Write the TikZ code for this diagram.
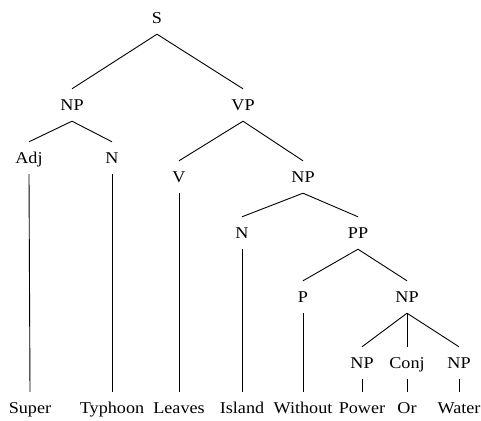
\documentclass[tikz,border=0pt]{standalone}
\usepackage{fontspec}
\setmainfont{Liberation Serif}[FakeStretch=1.1]
\usetikzlibrary{backgrounds}
\pgfdeclarelayer{edgelayer}
\pgfdeclarelayer{nodelayer}
\pgfsetlayers{edgelayer,nodelayer,main}
\tikzset{font=\fontsize{16.5}{18}\selectfont}
\tikzstyle{cat}=[inner xsep=2pt,inner ysep=10.5pt,text height=11pt,text depth=0pt]
\tikzstyle{branch}=[line width=0.9pt]
\begin{document}
\begin{tikzpicture}[x=1pt,y=1pt]
	\useasboundingbox (0,0) rectangle (481,420);
	\begin{pgfonlayer}{nodelayer}
		\node [style=cat] (0) at (157, 402) {S};
		\node [style=cat] (1) at (72, 315) {NP};
		\node [style=cat] (2) at (243, 315) {VP};
		\node [style=cat] (3) at (29, 262) {Adj};
		\node [style=cat] (4) at (112, 262) {N};
		\node [style=cat] (5) at (179, 243) {V};
		\node [style=cat] (6) at (303, 243) {NP};
		\node [style=cat] (7) at (242, 187) {N};
		\node [style=cat] (8) at (358, 187) {PP};
		\node [style=cat] (9) at (303, 123) {P};
		\node [style=cat] (10) at (407, 123) {NP};
		\node [style=cat] (11) at (362, 57) {NP};
		\node [style=cat] (12) at (407, 57) {Conj};
		\node [style=cat] (13) at (459, 57) {NP};
		\node [style=cat] (14) at (30, 12) {Super};
		\node [style=cat] (15) at (112, 12) {Typhoon};
		\node [style=cat] (16) at (179, 12) {Leaves};
		\node [style=cat] (17) at (242, 12) {Island};
		\node [style=cat] (18) at (303, 12) {Without};
		\node [style=cat] (19) at (362, 12) {Power};
		\node [style=cat] (20) at (407, 12) {Or};
		\node [style=cat] (21) at (459, 12) {Water};
	\end{pgfonlayer}
	\begin{pgfonlayer}{edgelayer}
		\draw [style=branch] (0.south) to (1.north);
		\draw [style=branch] (0.south) to (2.north);
		\draw [style=branch] (1.south) to (3.north);
		\draw [style=branch] (1.south) to (4.north);
		\draw [style=branch] (2.south) to (5.north);
		\draw [style=branch] (2.south) to (6.north);
		\draw [style=branch] (6.south) to (7.north);
		\draw [style=branch] (6.south) to (8.north);
		\draw [style=branch] (8.south) to (9.north);
		\draw [style=branch] (8.south) to (10.north);
		\draw [style=branch] (10.south) to (11.north);
		\draw [style=branch] (10.south) to (12.north);
		\draw [style=branch] (10.south) to (13.north);
		\draw [style=branch] (3.south) to (14.north);
		\draw [style=branch] (4.south) to (15.north);
		\draw [style=branch] (5.south) to (16.north);
		\draw [style=branch] (7.south) to (17.north);
		\draw [style=branch] (9.south) to (18.north);
		\draw [style=branch] (11.south) to (19.north);
		\draw [style=branch] (12.south) to (20.north);
		\draw [style=branch] (13.south) to (21.north);
	\end{pgfonlayer}
\end{tikzpicture}
\end{document}
